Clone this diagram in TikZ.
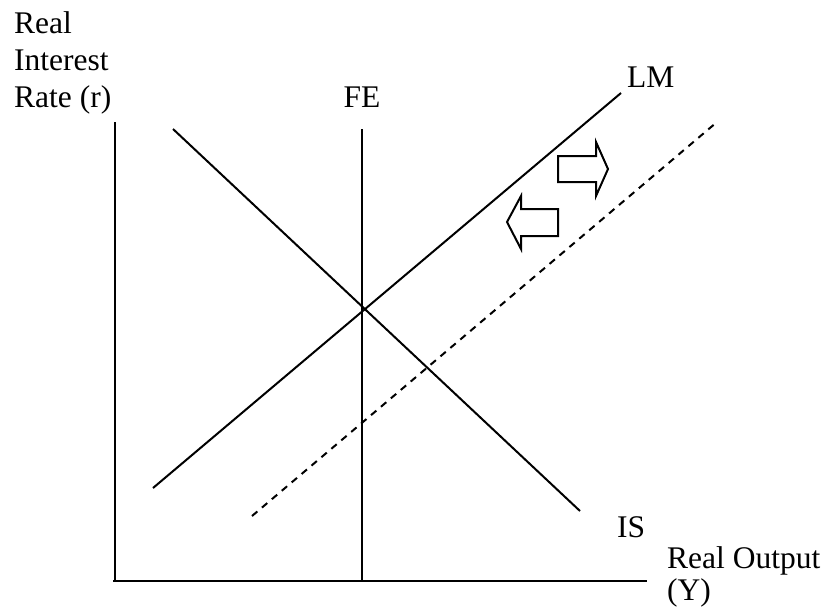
\documentclass[tikz,border=0pt]{standalone}
\usepackage{fontspec}
\setmainfont{Liberation Serif}
\begin{document}
\begin{tikzpicture}[x=1pt,y=-1pt,
  curve/.style={line width=2pt,line cap=butt},
  dashcurve/.style={line width=2pt,dash pattern=on 7pt off 6pt},
  shiftarrow/.style={line width=2pt,line join=miter,fill=white},
  lbl/.style={inner sep=0pt,font=\fontsize{31.5}{37}\selectfont}]
\useasboundingbox (0,0) rectangle (829,614);
% axes
\coordinate (ytop) at (115,122);
\coordinate (origin) at (115,581);
\coordinate (xend) at (647,581);
\draw[curve] (ytop) -- (origin);
\draw[curve] (113,581) -- (xend);
% FE
\coordinate (fetop) at (362,129);
\coordinate (febot) at (362,581);
\draw[curve] (fetop) -- (febot);
% IS
\coordinate (istop) at (173,129);
\coordinate (isbot) at (580,511);
\draw[curve] (istop) -- (isbot);
% LM
\coordinate (lmbot) at (153,488);
\coordinate (lmtop) at (621,93);
\draw[curve] (lmbot) -- (lmtop);
% shifted LM
\coordinate (lm2bot) at (252,516);
\coordinate (lm2top) at (717,122);
\draw[dashcurve] (lm2bot) -- (lm2top);
% arrows
\draw[shiftarrow] (558,156) -- (596,156) -- (596,142) -- (608,169) -- (596,196) -- (596,182) -- (558,182) -- cycle;
\draw[shiftarrow] (558,209) -- (521,209) -- (521,196) -- (507,222) -- (521,249) -- (521,236) -- (558,236) -- cycle;
% labels
\node[lbl,anchor=base west] (ylab1) at (14,33) {Real};
\node[lbl,anchor=base west] (ylab2) at (14,70) {Interest};
\node[lbl,anchor=base west] (ylab3) at (14,107) {Rate (r)};
\node[lbl,anchor=base] (fe) at (362,107) {FE};
\node[lbl,anchor=base west] (lm) at (627,87) {LM};
\node[lbl,anchor=base west] (is) at (617,537) {IS};
\node[lbl,anchor=base west] (xlab1) at (667,568) {Real Output};
\node[lbl,anchor=base west] (xlab2) at (667,600) {(Y)};
\end{tikzpicture}
\end{document}
